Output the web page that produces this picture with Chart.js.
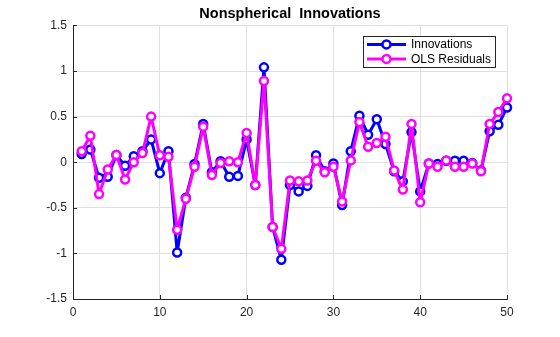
<!DOCTYPE html>
<html>
<head>
<meta charset="utf-8">
<script src="https://cdn.jsdelivr.net/npm/chart.js@4"></script>
<style>
  html, body { margin: 0; padding: 0; background: #fff; }
  #wrap { width: 560px; height: 337px; }
</style>
</head>
<body>
<div id="wrap"><canvas id="innovChart" width="560" height="337"></canvas></div>
<script>
var periods = [1,2,3,4,5,6,7,8,9,10,11,12,13,14,15,16,17,18,19,20,21,22,23,24,25,
               26,27,28,29,30,31,32,33,34,35,36,37,38,39,40,41,42,43,44,45,46,47,48,49,50];
var innovations = [0.09,0.14,-0.17,-0.16,0.08,-0.04,0.065,0.12,0.25,-0.12,
                   0.12,-0.99,-0.39,-0.02,0.42,-0.11,0.01,-0.16,-0.15,0.25,
                   -0.25,1.04,-0.71,-1.07,-0.25,-0.32,-0.26,0.076,-0.1,-0.015,
                   -0.47,0.12,0.51,0.30,0.47,0.2,-0.1,-0.21,0.33,-0.32,
                   -0.015,-0.02,0.015,0.015,0.015,-0.01,-0.09,0.34,0.41,0.6];
var olsResiduals = [0.12,0.29,-0.35,-0.08,0.08,-0.19,0.0,0.1,0.5,0.076,
                    0.06,-0.74,-0.4,-0.05,0.39,-0.14,-0.01,0.01,0,0.32,
                    -0.25,0.89,-0.71,-0.95,-0.2,-0.21,-0.2,0.015,-0.11,-0.05,
                    -0.43,0.02,0.44,0.17,0.21,0.28,-0.09,-0.3,0.42,-0.44,
                    -0.015,-0.05,0.02,-0.05,-0.05,-0.015,-0.1,0.42,0.55,0.7];
var xTicks = [0,10,20,30,40,50];
var yTicks = [-1.5,-1,-0.5,0,0.5,1,1.5];

function toPoints(vals) {
  return vals.map(function(v, i) { return { x: periods[i], y: v }; });
}

var axisColor = '#262626';
var gridColor = '#dfdfdf';
var fontFamily = 'Arial, "Liberation Sans", Helvetica, sans-serif';

// small inward tick marks like matlab
var tickMarks = {
  id: 'tickMarks',
  afterDraw: function(chart) {
    var ctx = chart.ctx, a = chart.chartArea;
    var xs = chart.scales.x, ys = chart.scales.y;
    ctx.save();
    ctx.strokeStyle = axisColor;
    ctx.lineWidth = 1;
    ctx.beginPath();
    xTicks.forEach(function(t) {
      var px = Math.round(xs.getPixelForValue(t)) + 0.5;
      ctx.moveTo(px, a.bottom);
      ctx.lineTo(px, a.bottom - 4);
    });
    yTicks.forEach(function(t) {
      var py = Math.round(ys.getPixelForValue(t)) + 0.5;
      ctx.moveTo(a.left, py);
      ctx.lineTo(a.left + 4, py);
    });
    ctx.stroke();
    ctx.restore();
  }
};

// legend box inside top right corner
var boxLegend = {
  id: 'boxLegend',
  afterDraw: function(chart) {
    var ctx = chart.ctx, a = chart.chartArea;
    var sets = chart.data.datasets;
    ctx.save();
    ctx.font = '12px ' + fontFamily;
    var textW = 0;
    sets.forEach(function(d) { textW = Math.max(textW, ctx.measureText(d.label).width); });
    var lineLen = 39, rowH = 14.5;
    var w = 4 + lineLen + 5 + textW + 4;
    var h = sets.length * rowH + 2;
    var right = a.right - 12, top = a.top + 11;
    var left = right - w;
    ctx.fillStyle = '#fff';
    ctx.fillRect(left, top, w, h);
    ctx.strokeStyle = axisColor;
    ctx.lineWidth = 1;
    ctx.strokeRect(Math.round(left) + 0.5, Math.round(top) + 0.5, Math.round(w), Math.round(h));
    sets.forEach(function(d, i) {
      var cy = top + 8 + i * rowH;
      ctx.strokeStyle = d.borderColor;
      ctx.lineWidth = 3;
      ctx.beginPath();
      ctx.moveTo(left + 4, cy);
      ctx.lineTo(left + 4 + lineLen, cy);
      ctx.stroke();
      ctx.beginPath();
      ctx.arc(left + 4 + lineLen / 2, cy, 4, 0, Math.PI * 2);
      ctx.fillStyle = '#fff';
      ctx.fill();
      ctx.lineWidth = 2.5;
      ctx.stroke();
      ctx.fillStyle = '#000';
      ctx.textBaseline = 'middle';
      ctx.fillText(d.label, left + 4 + lineLen + 5, cy + 0.5);
    });
    ctx.restore();
  }
};

var ctx = document.getElementById('innovChart').getContext('2d');
var myChart = new Chart(ctx, {
  type: 'line',
  data: {
    datasets: [{
      label: 'Innovations',
      data: toPoints(innovations),
      borderColor: '#0000ff',
      pointBorderColor: '#0000ff',
      pointBackgroundColor: '#ffffff',
      borderWidth: 3,
      borderJoinStyle: 'round',
      pointRadius: 4,
      pointBorderWidth: 2.5,
      tension: 0,
      clip: false,
      order: 1
    }, {
      label: 'OLS Residuals',
      data: toPoints(olsResiduals),
      borderColor: '#ff00ff',
      pointBorderColor: '#ff00ff',
      pointBackgroundColor: '#ffffff',
      borderWidth: 3,
      borderJoinStyle: 'round',
      pointRadius: 4,
      pointBorderWidth: 2.5,
      tension: 0,
      clip: false,
      order: 0
    }]
  },
  options: {
    responsive: false,
    animation: false,
    layout: { padding: { left: 0, right: 53, top: 0, bottom: 0 } },
    plugins: {
      legend: { display: false },
      tooltip: { enabled: false },
      title: {
        display: true,
        text: 'Nonspherical  Innovations',
        fullSize: false,
        color: '#000',
        font: { family: fontFamily, size: 14.5, weight: 'bold' },
        padding: { top: 5, bottom: 3 }
      }
    },
    scales: {
      x: {
        type: 'linear',
        min: 0, max: 50,
        afterBuildTicks: function(s) { s.ticks = xTicks.map(function(v) { return { value: v }; }); },
        afterFit: function(s) { s.height = 38; },
        grid: { color: gridColor, drawTicks: false },
        border: { color: axisColor, width: 1 },
        ticks: { color: axisColor, padding: 6, font: { family: fontFamily, size: 12 } }
      },
      y: {
        min: -1.5, max: 1.5,
        afterBuildTicks: function(s) { s.ticks = yTicks.map(function(v) { return { value: v }; }); },
        afterFit: function(s) { s.width = 73; },
        grid: { color: gridColor, drawTicks: false },
        border: { color: axisColor, width: 1 },
        ticks: {
          color: axisColor, padding: 6, font: { family: fontFamily, size: 12 },
          callback: function(v) { return String(v); }
        }
      }
    }
  },
  plugins: [tickMarks, boxLegend]
});
</script>
</body>
</html>
